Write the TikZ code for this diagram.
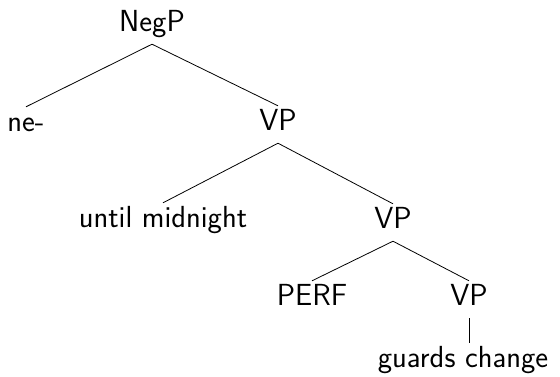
\documentclass[tikz,border=0pt]{standalone}
\usepackage{fontspec}
\begin{document}
\begin{tikzpicture}[x=1pt,y=-1pt,
  lbl/.style={anchor=base,inner sep=0pt,text height=24pt,text depth=13pt,
    font=\sffamily\fontsize{30.5}{36}\selectfont},
  edge/.style={line width=0.8pt}]
\useasboundingbox (0,0) rectangle (560,376);
\node[lbl] (negp) at (152,31) {NegP};
\node[lbl] (ne) at (26,131) {ne-};
\node[lbl] (vp1) at (278,130) {VP};
\node[lbl] (um) at (163,227) {until midnight};
\node[lbl] (vp2) at (393,228) {VP};
\node[lbl] (perf) at (312,305) {PERF};
\node[lbl] (vp3) at (469,305) {VP};
\node[lbl] (gc) at (463,367) {guards change};
\draw[edge] (negp.south) -- (ne.north);
\draw[edge] (negp.south) -- (vp1.north);
\draw[edge] (vp1.south) -- (um.north);
\draw[edge] (vp1.south) -- (vp2.north);
\draw[edge] (vp2.south) -- (perf.north);
\draw[edge] (vp2.south) -- (vp3.north);
\draw[edge] (vp3.south) -- (vp3.south |- gc.north);
\end{tikzpicture}
\end{document}
